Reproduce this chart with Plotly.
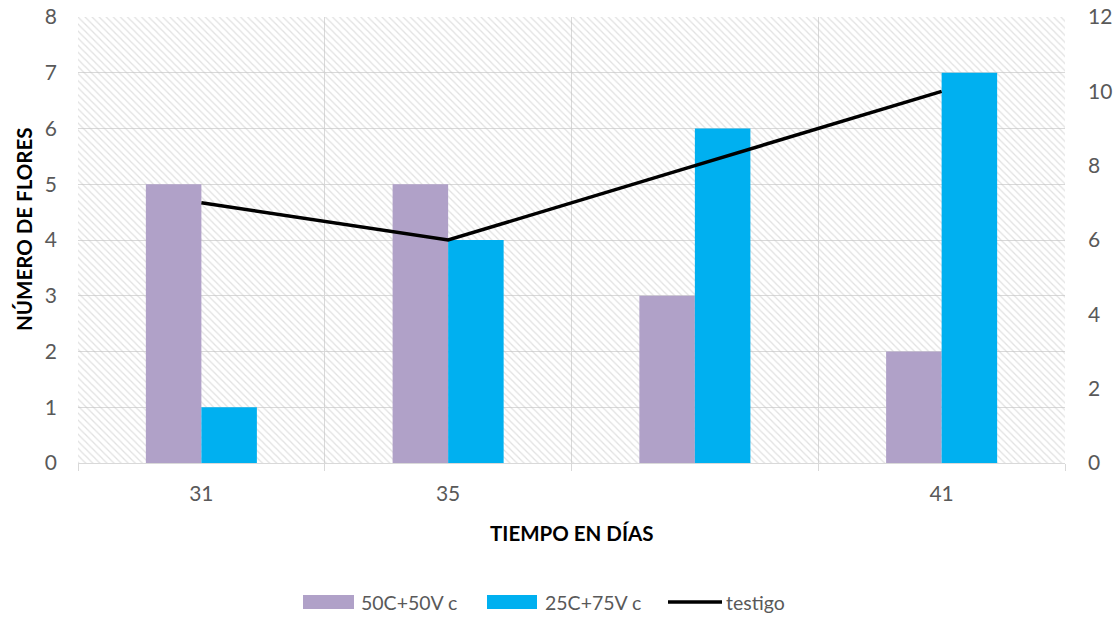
import plotly.graph_objects as go

# Category labels along the time axis (third day unlabelled)
days = ["31", "35", "", "41"]
# Flower counts per treatment (left axis)
flores_50c_50v = [5, 5, 3, 2]
flores_25c_75v = [1, 4, 6, 7]
# Control series (right axis)
testigo = [7, 6, 8, 10]

series_names = ["50C+50V c", "25C+75V c", "testigo"]
series_colors = ["#b0a1c8", "#00b0f0", "#000000"]

x_pos = list(range(len(days)))
x_range = [-0.5, len(days) - 0.5]
y_left = [0, 8]
y_right = [0, 12]

FONT = "Lato, 'Open Sans', sans-serif"
GRID = "#d9d9d9"
TICK_COL = "#595959"
TICK_SIZE = 21

W, H = 1117, 617
M_L, M_R, M_T, M_B = 78, 52, 17, 154
PW, PH = W - M_L - M_R, H - M_T - M_B


def px_x(p):
    return (p - M_L) / PW


def px_y(p):
    return (H - M_B - p) / PH


fig = go.Figure()

# Hatched plot-area background (main subplot, beneath the overlaid traces)
fig.add_trace(go.Scatter(
    x=[x_range[0], x_range[1], x_range[1], x_range[0], x_range[0]],
    y=[y_left[0], y_left[0], y_left[1], y_left[1], y_left[0]],
    mode="lines", line=dict(width=0), fill="toself",
    fillcolor="rgba(0,0,0,0)",
    fillpattern=dict(shape="\\", fgcolor="#c4c4c4", bgcolor="rgba(0,0,0,0)",
                     size=5, solidity=0.25),
    hoverinfo="skip", showlegend=False, xaxis="x", yaxis="y",
))

fig.add_trace(go.Bar(
    x=x_pos, y=flores_50c_50v, name=series_names[0],
    marker=dict(color=series_colors[0], line=dict(width=0)),
    xaxis="x", yaxis="y2",
))
fig.add_trace(go.Bar(
    x=x_pos, y=flores_25c_75v, name=series_names[1],
    marker=dict(color=series_colors[1], line=dict(width=0)),
    xaxis="x", yaxis="y2",
))
fig.add_trace(go.Scatter(
    x=x_pos, y=testigo, name=series_names[2], mode="lines",
    line=dict(color=series_colors[2], width=3.5),
    xaxis="x", yaxis="y3",
))

# Legend drawn below the chart: wide swatches followed by labels
shapes = []
annotations = []
legend_items = [
    # (swatch left, swatch right, text left, kind)
    (303, 354, 359, "rect"),
    (487, 537, 543, "rect"),
    (668, 722, 724, "line"),
]
ly = 602
for (s0, s1, t0, kind), name, color in zip(legend_items, series_names, series_colors):
    if kind == "rect":
        shapes.append(dict(type="rect", xref="paper", yref="paper",
                           x0=px_x(s0), x1=px_x(s1), y0=px_y(ly + 7), y1=px_y(ly - 7),
                           fillcolor=color, line=dict(width=0), layer="above"))
    else:
        shapes.append(dict(type="line", xref="paper", yref="paper",
                           x0=px_x(s0), x1=px_x(s1), y0=px_y(ly), y1=px_y(ly),
                           line=dict(color=color, width=3.5), layer="above"))
    annotations.append(dict(text=name, xref="paper", yref="paper",
                            x=px_x(t0), y=px_y(ly), xanchor="left", yanchor="middle",
                            showarrow=False,
                            font=dict(family=FONT, size=19.5, color=TICK_COL)))

# Axis titles
annotations.append(dict(text="<b>TIEMPO EN DÍAS</b>", xref="paper", yref="paper",
                        x=0.5, y=px_y(533), xanchor="center", yanchor="middle",
                        showarrow=False, font=dict(family=FONT, size=20.5, color="#000000")))
annotations.append(dict(text="<b>NÚMERO DE FLORES</b>", xref="paper", yref="paper",
                        x=px_x(24), y=px_y(229), xanchor="center", yanchor="middle",
                        textangle=-90, showarrow=False,
                        font=dict(family=FONT, size=20.5, color="#000000")))

fig.update_layout(
    width=W, height=H,
    margin=dict(l=M_L, r=M_R, t=M_T, b=M_B, autoexpand=False),
    paper_bgcolor="white", plot_bgcolor="white",
    font=dict(family=FONT, size=TICK_SIZE, color=TICK_COL),
    barmode="group", bargap=0.55, bargroupgap=0,
    showlegend=False,
    shapes=shapes, annotations=annotations,
    xaxis=dict(
        range=x_range, tickmode="array", tickvals=x_pos, ticktext=days,
        ticks="", showgrid=False, zeroline=False, automargin=False,
        showline=True, linecolor=GRID, linewidth=1,
        ticklabelstandoff=12,
        tickfont=dict(family=FONT, size=TICK_SIZE, color=TICK_COL),
        minor=dict(tickmode="array",
                   tickvals=[p - 0.5 for p in x_pos] + [x_pos[-1] + 0.5],
                   ticks="outside", ticklen=7, tickcolor=GRID, tickwidth=1,
                   showgrid=True, gridcolor=GRID, gridwidth=1),
    ),
    yaxis=dict(
        range=y_left, dtick=1, showgrid=True, gridcolor=GRID, gridwidth=1,
        zeroline=False, showline=False, ticks="", automargin=False,
        ticklabelstandoff=20,
        tickfont=dict(family=FONT, size=TICK_SIZE, color=TICK_COL),
    ),
    yaxis2=dict(range=y_left, overlaying="y", visible=False, showgrid=False),
    yaxis3=dict(
        range=y_right, dtick=2, overlaying="y", side="right", automargin=False,
        showgrid=False, zeroline=False, showline=False, ticks="",
        ticklabelstandoff=22,
        tickfont=dict(family=FONT, size=TICK_SIZE, color=TICK_COL),
    ),
)

fig.write_html("out.html")
